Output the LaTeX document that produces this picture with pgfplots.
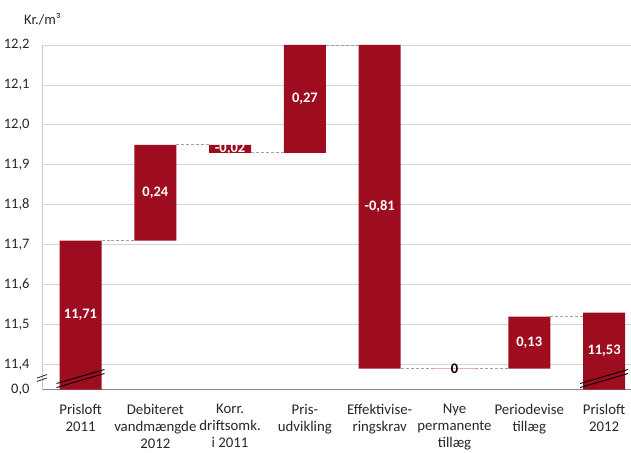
\documentclass[border=0pt]{standalone}
\usepackage{pgfplots}
\pgfplotsset{compat=1.18}
\usepackage{pgfplotstable}
\usepackage{fontspec}
\setmainfont{Carlito}

\definecolor{barred}{RGB}{158,12,32}
\definecolor{zerored}{RGB}{232,176,184}
\definecolor{gridgray}{RGB}{214,214,214}
\definecolor{axisgray}{RGB}{134,134,134}
\definecolor{spinegray}{RGB}{200,200,200}
\definecolor{linkgray}{RGB}{160,160,160}
\definecolor{txt}{RGB}{38,38,38}

\newcommand\ticksize{\fontsize{14.5bp}{17bp}\selectfont}
\newcommand\catsize{\fontsize{14.8bp}{17bp}\selectfont}
\newcommand\valsize{\fontsize{14.5bp}{17bp}\selectfont\bfseries}

% Waterfall steps: each bar runs from low to high (Kr./m3).
% The axis is broken below 11,4; its 0,0 line sits at 11.3375.
\pgfplotstableread{
x low     high  lab
0 11.3375 11.71 11,71
1 11.71   11.95 0,24
2 11.93   11.95 -0,02
3 11.93   12.20 0,27
4 11.39   12.20 -0,81
5 11.39   11.39 0
6 11.39   11.52 0,13
7 11.3375 11.53 11,53
}\waterfall

% Dashed links between neighbouring bars
\pgfplotstableread{
x     y
0.281 11.71
0.719 11.71
nan   nan
1.281 11.95
1.719 11.95
nan   nan
2.281 11.93
2.719 11.93
nan   nan
3.281 12.20
3.719 12.20
nan   nan
4.281 11.39
4.719 11.39
nan   nan
5.281 11.39
5.719 11.39
nan   nan
6.281 11.52
6.719 11.52
}\links

\pgfplotsset{
  wf/.style={
    scale only axis, width=589bp, height=344.5bp,
    at={(42bp,63.5bp)}, anchor=south west,
    xmin=-0.515, xmax=7.36, ymin=11.3375, ymax=12.2,
  },
}

\begin{document}
\begin{tikzpicture}
\path[use as bounding box] (0,0) rectangle (631bp,453bp);

\begin{axis}[wf,
  ybar stacked, bar width=42bp,
  axis x line*=bottom, axis y line*=left,
  x axis line style={draw=axisgray, line width=1bp},
  y axis line style={draw=spinegray, line width=0.8bp},
  ymajorgrids, grid style={draw=gridgray, line width=0.8bp},
  major tick length=0pt,
  xtick={0,1,2,3,4,5,6,7},
  xticklabels={{Prisloft\\2011},{Debiteret\\vandmængde\\2012},{Korr.\\driftsomk.\\i 2011},{Pris-\\udvikling},{Effektivise-\\ringskrav},{Nye\\permanente\\tillæg},{Periodevise\\tillæg},{Prisloft\\2012}},
  xticklabel style={align=center, font=\catsize, text=txt, anchor=north, yshift=-11bp},
  ytick={11.3375,11.4,11.5,11.6,11.7,11.8,11.9,12.0,12.1,12.2},
  yticklabels={0{,}0,11{,}4,11{,}5,11{,}6,11{,}7,11{,}8,11{,}9,12{,}0,12{,}1,12{,}2},
  yticklabel style={font=\ticksize, text=txt, anchor=east, xshift=-9bp},
]
\addplot [draw=none, fill=none] table [x=x, y=low] {\waterfall};
\addplot [draw=none, fill=barred] table [x=x, y expr=\thisrow{high}-\thisrow{low}] {\waterfall};
\end{axis}

\begin{axis}[wf, hide axis, clip=false]
% links between bars
\addplot [linkgray, densely dashed, line width=0.8bp, unbounded coords=jump] table [x=x, y=y] {\links};
% the zero step
\addplot [zerored, line width=1.5bp] coordinates {(4.719,11.39) (5.281,11.39)};
% value labels
\addplot [draw=none, mark=none, nodes near coords, point meta=explicit symbolic,
  skip coords between index={5}{6},
  every node near coord/.append style={anchor=center, font=\valsize, text=white, inner sep=0pt}]
  table [x=x, y expr=(\thisrow{low}+\thisrow{high})/2, meta=lab] {\waterfall};
\addplot [draw=none, mark=none, nodes near coords, point meta=explicit symbolic,
  skip coords between index={0}{5}, skip coords between index={6}{8},
  every node near coord/.append style={anchor=center, font=\valsize, text=black, inner sep=0pt}]
  table [x=x, y expr=(\thisrow{low}+\thisrow{high})/2, meta=lab] {\waterfall};
% axis break marks
\draw[black, line width=0.9bp] (axis cs:-0.32,11.3525) -- (axis cs:0.32,11.3875);
\draw[black, line width=0.9bp] (axis cs:-0.32,11.3425) -- (axis cs:0.32,11.3775);
\draw[black, line width=0.9bp] (axis cs:6.68,11.3525) -- (axis cs:7.32,11.3875);
\draw[black, line width=0.9bp] (axis cs:6.68,11.3425) -- (axis cs:7.32,11.3775);
\draw[txt, line width=0.8bp] (axis cs:-0.582,11.3660) -- (axis cs:-0.448,11.3750);
\draw[txt, line width=0.8bp] (axis cs:-0.582,11.3575) -- (axis cs:-0.448,11.3665);
\end{axis}

\node[font=\ticksize, text=txt] at (42.5bp,434bp) {Kr./m³};
\end{tikzpicture}
\end{document}
